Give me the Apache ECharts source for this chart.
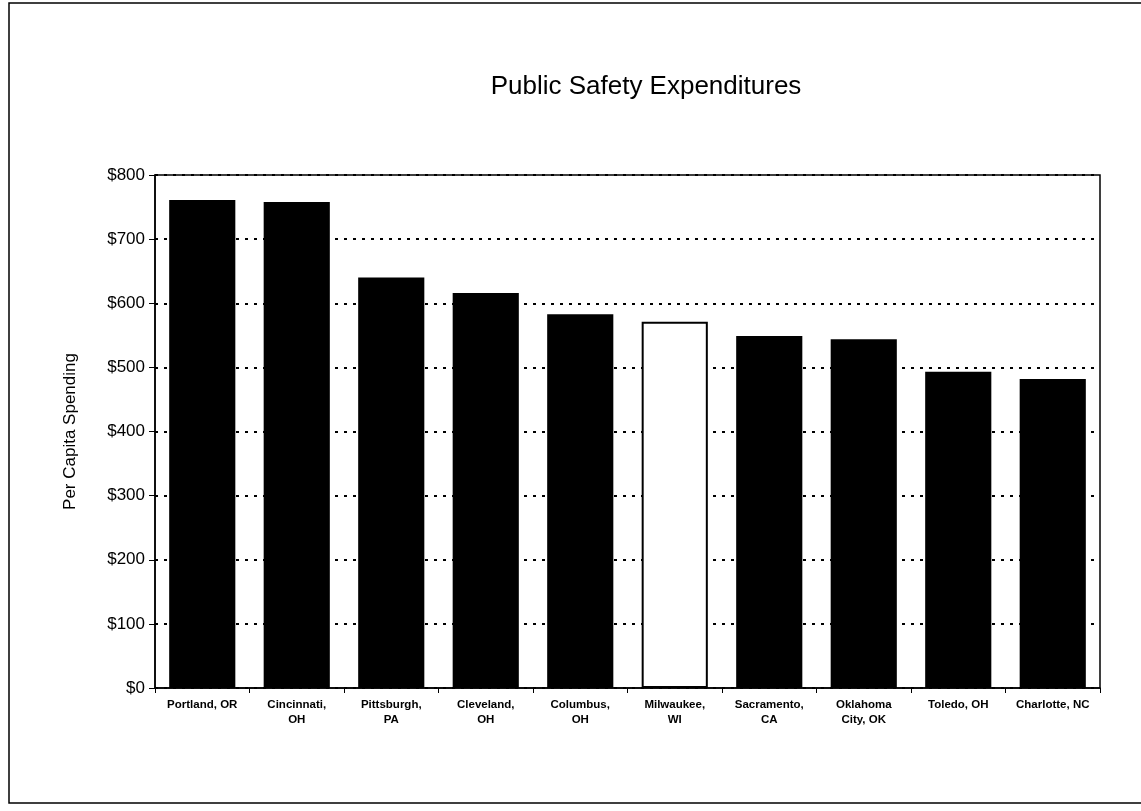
<!DOCTYPE html>
<html>
<head>
<meta charset="utf-8">
<script src="https://cdn.jsdelivr.net/npm/echarts@6/dist/echarts.min.js"></script>
<style>
html,body{margin:0;padding:0;background:#fff;}
#chart{width:1141px;height:811px;}
</style>
</head>
<body>
<div id="chart"></div>
<script>
const categories = ['Portland, OR','Cincinnati,\nOH','Pittsburgh,\nPA','Cleveland,\nOH','Columbus,\nOH','Milwaukee,\nWI','Sacramento,\nCA','Oklahoma\nCity, OK','Toledo, OH','Charlotte, NC'];
const spending = [761, 758, 640, 616, 583, 571, 549, 544, 493, 482];
const highlightIndex = 5;
const yTicks = [0, 100, 200, 300, 400, 500, 600, 700, 800];

const chart = echarts.init(document.getElementById('chart'));
const font = '"Liberation Sans", Arial, sans-serif';
chart.setOption({
  animation: false,
  backgroundColor: '#fff',
  title: {
    text: 'Public Safety Expenditures',
    left: 641, top: 69, textAlign: 'center',
    textStyle: {fontFamily: font, fontSize: 26, fontWeight: 'normal', color: '#000'}
  },
  graphic: [
    {type: 'rect', shape: {x: 9, y: 3, width: 1140, height: 800}, style: {fill: 'none', stroke: '#000', lineWidth: 1.5}, silent: true, z: -1},
    {type: 'rect', shape: {x: 155, y: 175, width: 945, height: 513}, style: {fill: 'none', stroke: '#000', lineWidth: 1.5}, silent: true, z: 10}
  ],
  grid: {left: 155, right: 41, top: 175, bottom: 123, containLabel: false},
  xAxis: {
    type: 'category',
    data: categories,
    axisLine: {lineStyle: {color: '#000', width: 1.5}},
    axisTick: {show: true, length: 5, lineStyle: {color: '#000'}},
    axisLabel: {fontFamily: font, fontSize: 11.5, fontWeight: 'bold', color: '#000', interval: 0, margin: 9, lineHeight: 15}
  },
  yAxis: {
    type: 'value',
    min: yTicks[0], max: yTicks[yTicks.length - 1], interval: 100,
    name: 'Per Capita Spending',
    nameLocation: 'middle', nameGap: 76, nameRotate: 90,
    nameTextStyle: {fontFamily: font, fontSize: 17, color: '#000'},
    axisLine: {show: true, lineStyle: {color: '#000', width: 1.5}},
    axisTick: {show: true, length: 6, lineStyle: {color: '#000'}},
    axisLabel: {fontFamily: font, fontSize: 17, color: '#000', margin: 10, formatter: v => '$' + v},
    splitLine: {show: true, lineStyle: {color: '#000', type: [3, 6], width: 2}}
  },
  series: [{
    type: 'bar',
    data: spending.map((v, i) => i === highlightIndex
      ? {value: v, itemStyle: {color: '#fff', borderColor: '#000', borderWidth: 2}}
      : {value: v, itemStyle: {color: '#000'}}),
    barWidth: '70%',
    itemStyle: {color: '#000'}
  }]
});
</script>
</body>
</html>
